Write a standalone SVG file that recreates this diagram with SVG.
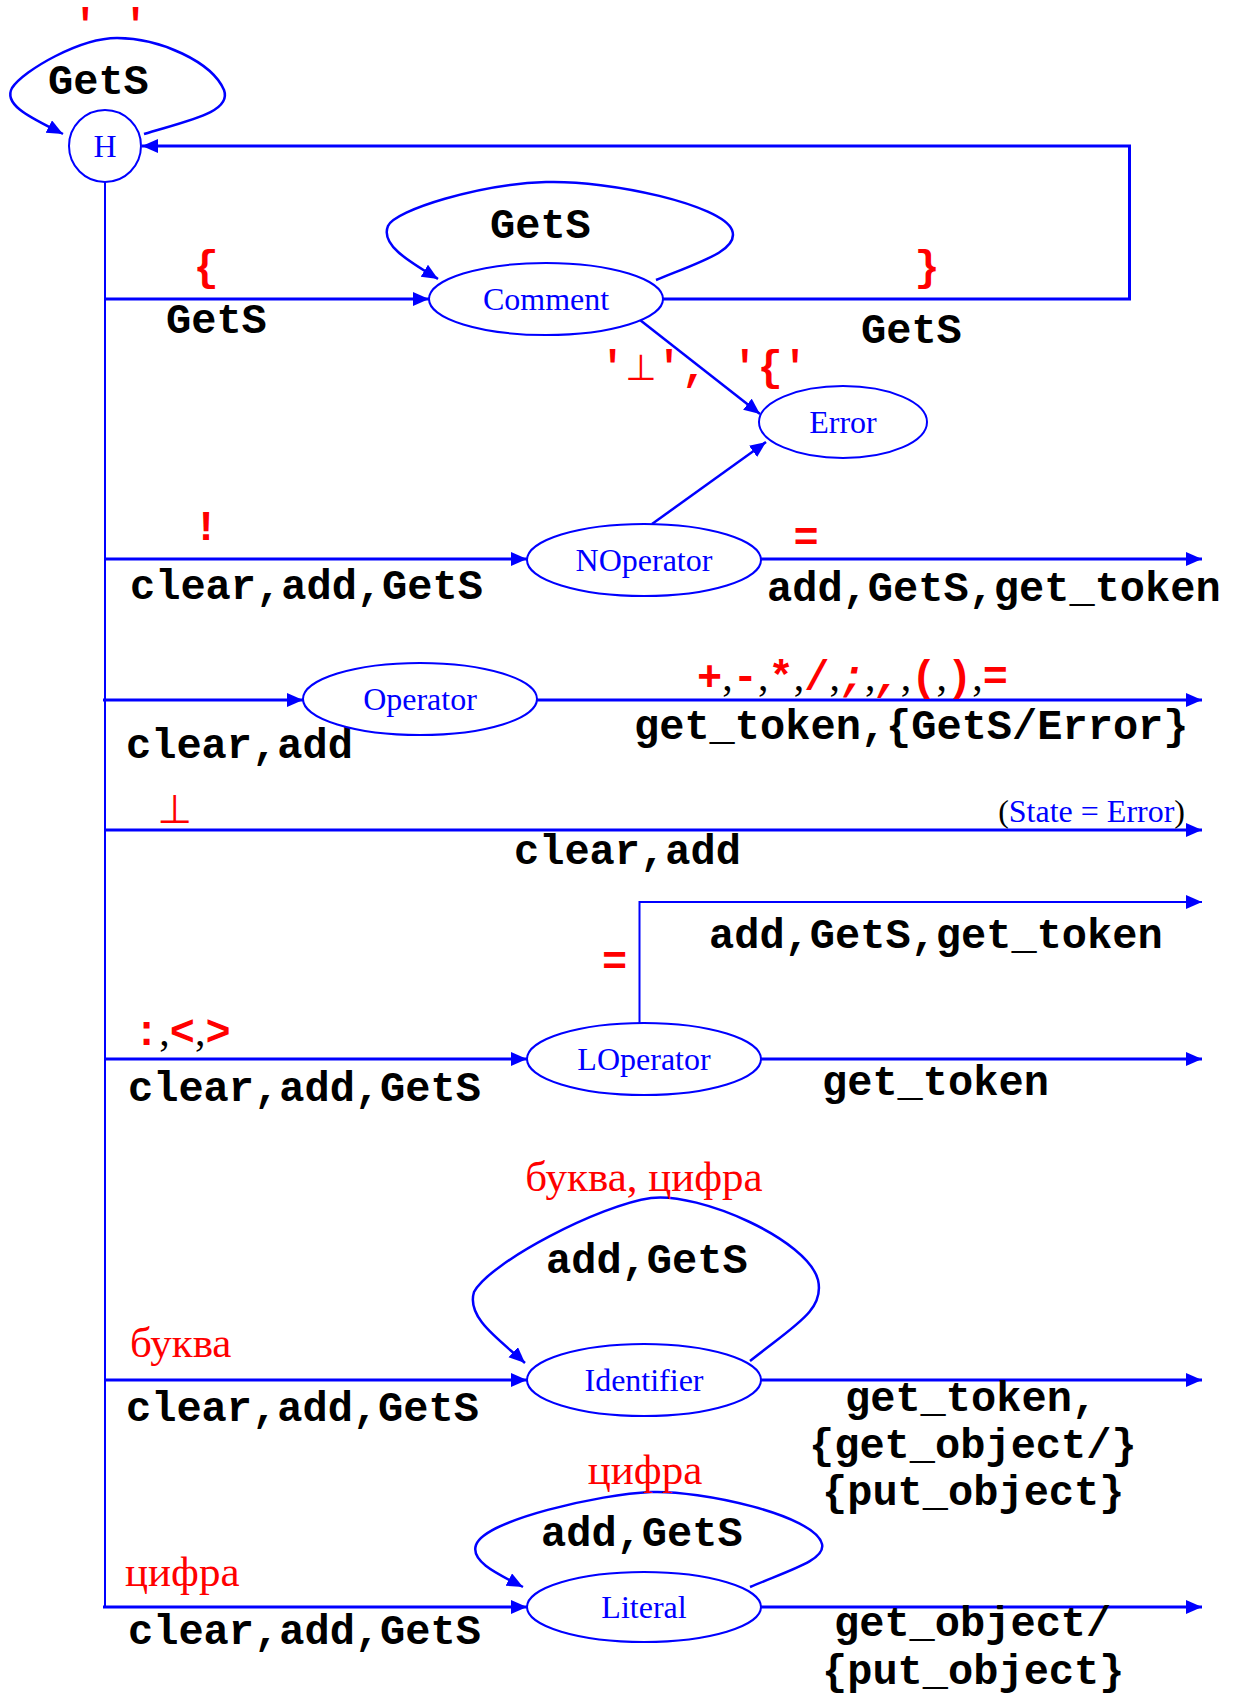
<svg xmlns="http://www.w3.org/2000/svg" width="1242" height="1696" viewBox="0 0 1242 1696">
<defs>
<marker id="arr" markerUnits="userSpaceOnUse" markerWidth="18" markerHeight="16" refX="16" refY="7" orient="auto">
<path d="M0,0 L16,7 L0,14 z" fill="#0000FF"/>
</marker>
<style>
.ln{fill:none;stroke:#0000FF;stroke-width:3}
.thin{fill:none;stroke:#0000FF;stroke-width:2}
.loop{fill:none;stroke:#0000FF;stroke-width:2.5}
.node{fill:#FFFFFF;stroke:#0000FF;stroke-width:2}
.nl{font-family:"Liberation Serif","Times New Roman",serif;font-size:32px;fill:#0000FF;text-anchor:middle}
.m{font-family:"Liberation Mono","DejaVu Sans Mono","Courier New",monospace;font-weight:bold;font-size:42px;fill:#000000}
.r{fill:#FF0000}
.rs{font-family:"Liberation Serif","Times New Roman",serif;font-size:43px;fill:#FF0000}
.sc{font-family:"Liberation Serif","Times New Roman",serif;font-weight:normal;font-size:42px;fill:#000000}
.up{font-family:"DejaVu Sans",sans-serif;font-weight:normal;font-size:36px}
</style>
</defs>
<g id="connectors">
<line class="thin" x1="105" y1="182" x2="105" y2="1607"/>
<path class="loop" d="M144,134 C190,120 232,112 224,90 C212,62 160,38 117,38 C80,38 24,70 12,88 C2,106 36,120 63,134" marker-end="url(#arr)"/>
<path class="ln" d="M663,299 L1129.5,299 L1129.5,146 L142,146" marker-end="url(#arr)"/>
<line class="ln" x1="105" y1="299" x2="429" y2="299" marker-end="url(#arr)"/>
<path class="loop" d="M656,280 C700,262 740,250 732,230 C722,205 610,180 546,182 C480,184 395,210 388,226 C380,245 410,262 438,279" marker-end="url(#arr)"/>
<line class="loop" x1="640" y1="320" x2="760" y2="414" marker-end="url(#arr)"/>
<line class="loop" x1="652" y1="524" x2="766" y2="442" marker-end="url(#arr)"/>
<line class="ln" x1="105" y1="559" x2="527" y2="559" marker-end="url(#arr)"/>
<line class="ln" x1="761" y1="559" x2="1202" y2="559" marker-end="url(#arr)"/>
<line class="ln" x1="103" y1="700" x2="303" y2="700" marker-end="url(#arr)"/>
<line class="ln" x1="537" y1="700" x2="1202" y2="700" marker-end="url(#arr)"/>
<line class="ln" x1="105" y1="830" x2="1202" y2="830" marker-end="url(#arr)"/>
<line class="ln" x1="105" y1="1059" x2="527" y2="1059" marker-end="url(#arr)"/>
<path class="thin" d="M639.5,1023 L639.5,902 L1202,902" marker-end="url(#arr)"/>
<line class="ln" x1="761" y1="1059" x2="1202" y2="1059" marker-end="url(#arr)"/>
<path class="loop" d="M750,1361 C795,1325 825,1310 818,1280 C808,1240 700,1192 651,1198 C600,1205 490,1262 474,1292 C466,1318 500,1340 525,1363" marker-end="url(#arr)"/>
<line class="ln" x1="105" y1="1380" x2="527" y2="1380" marker-end="url(#arr)"/>
<line class="ln" x1="761" y1="1380" x2="1202" y2="1380" marker-end="url(#arr)"/>
<path class="loop" d="M750,1587 C790,1570 826,1560 822,1544 C815,1515 700,1490 651,1492 C600,1494 485,1520 476,1545 C470,1562 500,1575 523,1587" marker-end="url(#arr)"/>
<line class="ln" x1="103" y1="1607" x2="527" y2="1607" marker-end="url(#arr)"/>
<line class="ln" x1="761" y1="1607" x2="1202" y2="1607" marker-end="url(#arr)"/>
</g>
<g id="labels">
<text class="m r" x="110.5" y="38" text-anchor="middle">' '</text>
<text class="m" x="48" y="94">GetS</text>
<text class="m r" x="206" y="280" text-anchor="middle">{</text>
<text class="m" x="166" y="333">GetS</text>
<text class="m" x="490" y="238">GetS</text>
<text class="m r" x="927" y="280" text-anchor="middle">}</text>
<text class="m" x="861" y="343">GetS</text>
<text class="m r" x="600" y="380">'<tspan class="up">⊥</tspan>', '{'</text>
<text class="m r" x="206" y="540" text-anchor="middle">!</text>
<text class="m" x="130" y="599">clear,add,GetS</text>
<text class="m r" x="806" y="551" text-anchor="middle">=</text>
<text class="m" x="767" y="601">add,GetS,get_token</text>
<text class="m" x="126" y="758">clear,add</text>
<text class="m r" x="697" y="690"><tspan>+</tspan><tspan class="sc">,</tspan><tspan>-</tspan><tspan class="sc">,</tspan><tspan>*</tspan><tspan class="sc">,</tspan><tspan>/</tspan><tspan class="sc">,</tspan><tspan font-style="italic">;</tspan><tspan class="sc">,</tspan><tspan font-style="italic">,</tspan><tspan class="sc">,</tspan><tspan>(</tspan><tspan class="sc">,</tspan><tspan>)</tspan><tspan class="sc">,</tspan><tspan>=</tspan></text>
<text class="m" x="634" y="739">get_token,{GetS/Error}</text>
<text class="m r up" x="175" y="823" text-anchor="middle" style="font-size:40px">⊥</text>
<text class="nl" x="1185" y="822" style="text-anchor:end"><tspan fill="#000000">(</tspan>State = Error<tspan fill="#000000">)</tspan></text>
<text class="m" x="514" y="864">clear,add</text>
<text class="m r" x="134" y="1045"><tspan>:</tspan><tspan class="sc">,</tspan><tspan>&lt;</tspan><tspan class="sc">,</tspan><tspan>&gt;</tspan></text>
<text class="m" x="128" y="1101">clear,add,GetS</text>
<text class="m r" x="614.5" y="975" text-anchor="middle">=</text>
<text class="m" x="709" y="948">add,GetS,get_token</text>
<text class="m" x="822" y="1095">get_token</text>
<text class="rs" x="644" y="1191" text-anchor="middle">буква, цифра</text>
<text class="m" x="546" y="1273">add,GetS</text>
<text class="rs" x="130" y="1357">буква</text>
<text class="m" x="126" y="1421">clear,add,GetS</text>
<text class="m" x="845" y="1411">get_token,</text>
<text class="m" x="809" y="1458">{get_object/}</text>
<text class="m" x="822" y="1505">{put_object}</text>
<text class="rs" x="645" y="1484" text-anchor="middle">цифра</text>
<text class="m" x="541" y="1546">add,GetS</text>
<text class="rs" x="125" y="1586">цифра</text>
<text class="m" x="128" y="1644">clear,add,GetS</text>
<text class="m" x="834" y="1636">get_object/</text>
<text class="m" x="822" y="1684">{put_object}</text>
</g>
<g id="node-H"><circle class="node" cx="105" cy="146" r="36"/><text class="nl" x="105" y="157">H</text></g>
<g id="node-Comment"><ellipse class="node" cx="546" cy="299" rx="117" ry="36"/><text class="nl" x="546" y="310">Comment</text></g>
<g id="node-Error"><ellipse class="node" cx="843" cy="422" rx="84" ry="36"/><text class="nl" x="843" y="433">Error</text></g>
<g id="node-NOperator"><ellipse class="node" cx="644" cy="560" rx="117" ry="36"/><text class="nl" x="644" y="571">NOperator</text></g>
<g id="node-Operator"><ellipse class="node" cx="420" cy="699" rx="117" ry="36"/><text class="nl" x="420" y="710">Operator</text></g>
<g id="node-LOperator"><ellipse class="node" cx="644" cy="1059" rx="117" ry="36"/><text class="nl" x="644" y="1070">LOperator</text></g>
<g id="node-Identifier"><ellipse class="node" cx="644" cy="1380" rx="117" ry="36"/><text class="nl" x="644" y="1391">Identifier</text></g>
<g id="node-Literal"><ellipse class="node" cx="644" cy="1607" rx="117" ry="35"/><text class="nl" x="644" y="1618">Literal</text></g>
</svg>
